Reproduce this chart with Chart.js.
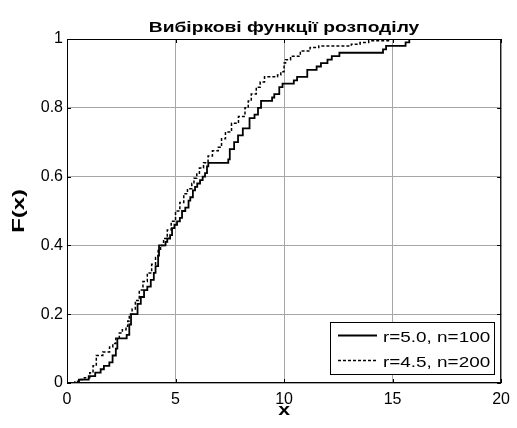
<!DOCTYPE html>
<html>
<head>
<meta charset="utf-8">
<script src="https://cdn.jsdelivr.net/npm/chart.js@4/dist/chart.umd.min.js"></script>
<style>
  html, body { margin: 0; background: #fff; }
</style>
</head>
<body>
<canvas id="cdfChart" width="517" height="428"></canvas>
<script>
const chartTitle = 'Вибіркові функції розподілу';
const xAxisTitle = 'x';
const yAxisTitle = 'F(x)';
const seriesLabels = ['r=5.0, n=100', 'r=4.5, n=200'];

const solidX = [0.45, 0.55, 1.0, 1.3, 1.55, 1.7, 1.95, 2.1, 2.25, 2.32, 2.75, 2.87, 2.95, 3.25, 3.4, 3.55, 3.7, 3.86, 4.0, 4.08, 4.2, 4.24,
  4.54, 4.62, 4.75, 4.84, 4.95, 5.07, 5.2, 5.3, 5.45, 5.6, 5.68, 5.8, 5.9, 6.0, 6.13, 6.25, 6.36, 6.45, 6.51,
  7.43, 7.5, 7.7, 7.88, 8.1, 8.41, 8.64, 8.8, 8.94, 9.45, 9.55, 9.78, 9.93, 10.45, 10.6, 11.07, 11.5, 11.7,
  12.0, 12.2, 12.55, 14.56, 14.7, 15.6, 15.77, 20];
const solidF = [0, 0.01, 0.02, 0.03, 0.04, 0.05, 0.06, 0.08, 0.10, 0.13, 0.14, 0.17, 0.20, 0.23, 0.25, 0.27, 0.28, 0.30, 0.32, 0.34, 0.37, 0.40,
  0.41, 0.42, 0.43, 0.45, 0.46, 0.47, 0.48, 0.50, 0.51, 0.53, 0.54, 0.56, 0.57, 0.58, 0.59, 0.60, 0.61, 0.63, 0.64,
  0.65, 0.68, 0.70, 0.72, 0.74, 0.77, 0.78, 0.80, 0.82, 0.83, 0.84, 0.86, 0.87, 0.88, 0.89, 0.91, 0.92, 0.93,
  0.94, 0.95, 0.96, 0.97, 0.98, 0.99, 1.00, 1.00];

const dottedX = [0.3, 0.36, 0.6, 0.8, 1.05, 1.2, 1.35, 1.65, 1.96, 2.11, 2.25, 2.41, 2.55, 2.72, 2.8, 2.87, 3.0, 3.15, 3.33, 3.5, 3.7, 3.9,
  4.08, 4.2, 4.31, 4.45, 4.62, 4.8, 5.0, 5.2, 5.38, 5.55, 5.75, 5.85, 5.98, 6.1, 6.29, 6.5, 6.7, 6.97, 7.12, 7.3, 7.58,
  7.9, 8.2, 8.35, 8.49, 8.72, 8.9, 9.1, 9.7, 9.85, 10.0, 10.07, 10.3, 10.75, 11.2, 11.6, 13.1, 13.5, 13.9, 14.9, 20];
const dottedF = [0, 0.005, 0.01, 0.015, 0.03, 0.05, 0.08, 0.09, 0.105, 0.115, 0.13, 0.145, 0.155, 0.165, 0.18, 0.20, 0.215, 0.24, 0.27, 0.295, 0.32, 0.345,
  0.365, 0.385, 0.40, 0.42, 0.445, 0.47, 0.50, 0.525, 0.55, 0.565, 0.58, 0.595, 0.61, 0.625, 0.64, 0.66, 0.675, 0.685, 0.71, 0.73, 0.755,
  0.775, 0.80, 0.82, 0.84, 0.86, 0.875, 0.89, 0.895, 0.905, 0.93, 0.94, 0.95, 0.965, 0.975, 0.98, 0.985, 0.99, 0.995, 1.00, 1.00];

const xTicksStep = 5;
const yTicksStep = 0.2;

const toPoints = (xs, fs) => xs.map((x, i) => ({ x: x, y: fs[i] }));

const FONT = "'Liberation Sans', Arial, sans-serif";
const BOX = { left: 67, top: 39, right: 506, bottom: 383 };

// text in the reference is a bit wider than plain Arial, so stretch it horizontally
function wideText(ctx, text, x, y, sx, align, rotate) {
  ctx.save();
  ctx.translate(x, y);
  if (rotate) ctx.rotate(rotate);
  ctx.scale(sx, 1);
  ctx.textAlign = align;
  ctx.fillText(text, 0, 0);
  ctx.restore();
}

// --- title, axis titles, plot box, inner tick marks and the boxed legend ---
const matlabFrame = {
  id: 'matlabFrame',
  afterDatasetsDraw(chart) {
    const ctx = chart.ctx;
    const a = chart.chartArea;
    const xs = chart.scales.x, ys = chart.scales.y;
    ctx.save();
    ctx.strokeStyle = '#000';
    ctx.lineWidth = 1;
    ctx.setLineDash([]);
    ctx.strokeRect(a.left + 0.5, a.top + 0.5, a.right - a.left - 1, a.bottom - a.top - 1);

    // inward ticks
    ctx.beginPath();
    xs.ticks.forEach(t => {
      const px = Math.round(xs.getPixelForValue(t.value)) + 0.5;
      ctx.moveTo(px, a.bottom); ctx.lineTo(px, a.bottom - 4);
      ctx.moveTo(px, a.top); ctx.lineTo(px, a.top + 4);
    });
    ys.ticks.forEach(t => {
      const py = Math.round(ys.getPixelForValue(t.value)) + 0.5;
      ctx.moveTo(a.left, py); ctx.lineTo(a.left + 4, py);
      ctx.moveTo(a.right, py); ctx.lineTo(a.right - 4, py);
    });
    ctx.stroke();

    // titles
    ctx.fillStyle = '#000';
    ctx.textBaseline = 'middle';
    ctx.font = 'bold 15px ' + FONT;
    wideText(ctx, chartTitle, (a.left + a.right) / 2, 28, 1.28, 'center');
    ctx.font = 'bold 17px ' + FONT;
    wideText(ctx, xAxisTitle, (a.left + a.right) / 2, 410, 1.25, 'center');
    wideText(ctx, yAxisTitle, 19, (a.top + a.bottom) / 2, 1.4, 'center', -Math.PI / 2);

    // legend
    const lx = 330, ly = 322, lw = 164, lh = 52;
    ctx.fillStyle = '#fff';
    ctx.fillRect(lx, ly, lw, lh);
    ctx.strokeRect(lx + 0.5, ly + 0.5, lw, lh);
    ctx.font = '15px ' + FONT;
    chart.data.datasets.forEach((ds, i) => {
      const y = ly + 13 + i * 25;
      ctx.beginPath();
      ctx.lineWidth = ds.borderWidth;
      ctx.setLineDash(ds.borderDash || []);
      ctx.moveTo(lx + 8, y + 0.5);
      ctx.lineTo(lx + 47, y + 0.5);
      ctx.stroke();
      ctx.fillStyle = '#000';
      wideText(ctx, ds.label, lx + 53, y + 3, 1.26, 'left');
    });
    ctx.restore();
  }
};

new Chart(document.getElementById('cdfChart'), {
  type: 'line',
  data: {
    datasets: [{
      label: seriesLabels[0],
      data: toPoints(solidX, solidF),
      borderColor: '#000',
      borderWidth: 1.8,
      stepped: true,
      pointRadius: 0,
      fill: false
    }, {
      label: seriesLabels[1],
      data: toPoints(dottedX, dottedF),
      borderColor: '#000',
      borderWidth: 1.5,
      borderDash: [3, 2],
      stepped: true,
      pointRadius: 0,
      fill: false
    }]
  },
  options: {
    responsive: false,
    animation: false,
    layout: { padding: { top: BOX.top, right: 517 - BOX.right, left: 0, bottom: 0 } },
    plugins: { legend: { display: false }, tooltip: { enabled: false } },
    scales: {
      x: {
        type: 'linear',
        min: 0, max: 20,
        afterFit: s => { s.height = 428 - BOX.bottom; },
        border: { display: false },
        grid: { color: '#a6a6a6', borderDash: [2, 2], drawTicks: false },
        ticks: { stepSize: xTicksStep, padding: 7, color: '#000', font: { family: FONT, size: 16 } }
      },
      y: {
        min: 0, max: 1,
        afterFit: s => { s.width = BOX.left; },
        border: { display: false },
        grid: { color: '#a6a6a6', borderDash: [2, 2], drawTicks: false },
        ticks: { stepSize: yTicksStep, padding: 4, color: '#000', font: { family: FONT, size: 16 },
          callback: v => String(+v.toFixed(2)) }
      }
    }
  },
  plugins: [matlabFrame]
});
</script>
</body>
</html>
